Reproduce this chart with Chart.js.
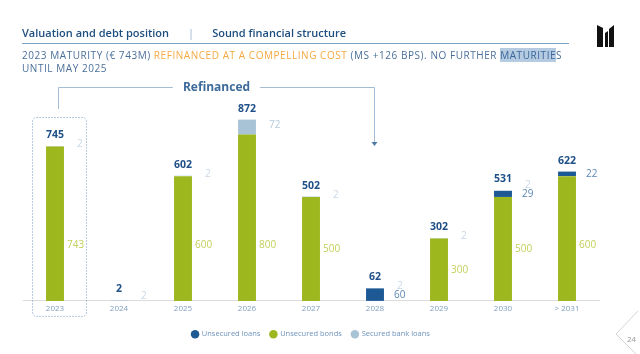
<!DOCTYPE html>
<html>
<head>
<meta charset="utf-8">
<script src="https://cdn.jsdelivr.net/npm/chart.js@4"></script>
<style>
    body { margin: 0; background: #fff; }
    #page { position: relative; width: 640px; height: 354px; overflow: hidden; font-family: "Open Sans", sans-serif; }
    #chart { position: absolute; left: 0; top: 0; }
    .header { position: absolute; top: 25px; left: 22px; font-size: 11px; font-weight: 600; color: #1f4f80; white-space: nowrap; }
    .header .sep { color: #9ab3cc; font-weight: 400; margin: 0 18px 0 19px; }
    .rule { position: absolute; left: 22px; top: 43px; width: 547px; height: 1px; background: #7fa3c6; }
    .subtitle { position: absolute; left: 22px; top: 49px; font-size: 10px; letter-spacing: 0.55px; line-height: 12.5px; color: #4a6f9a; white-space: nowrap; }
    .subtitle .hl { color: #f5a940; }
    .subtitle .sel { background: #b4cbe2; color: #3a679a; }
    #logo { position: absolute; left: 597px; top: 25px; }
    #pageno { position: absolute; left: 600px; top: 310px; }
</style>
</head>
<body>
<div id="page">
    <canvas id="chart" width="640" height="354"></canvas>
    <div class="header">Valuation and debt position<span class="sep">|</span>Sound financial structure</div>
    <div class="rule"></div>
    <div class="subtitle">2023 MATURITY (€ 743M) <span class="hl">REFINANCED AT A COMPELLING COST</span> (MS +126 BPS). NO FURTHER <span class="sel">MATURITIE</span>S<br>UNTIL MAY 2025</div>
    <svg id="logo" width="18" height="22" viewBox="0 0 18 22">
        <polygon points="0,0 6,3 6,22 0,22" fill="#111"/>
        <polygon points="8,8 11,6 11,22 8,22" fill="#111"/>
        <polygon points="12,4 17,0 17,22 12,22" fill="#111"/>
    </svg>
    <svg id="pageno" width="40" height="44">
        <polyline points="38,1 16,24 36,44" fill="none" stroke="#d4d4d4" stroke-width="1"/>
        <text x="27" y="32" font-size="8" fill="#9a9a9a" font-family="Open Sans">24</text>
    </svg>
</div>

<script>
const categories = ["2023", "2024", "2025", "2026", "2027", "2028", "2029", "2030", "> 2031"];
const unsecuredBonds = [743, 0, 600, 800, 500, 0, 300, 500, 600];
const unsecuredLoans = [0, 0, 0, 0, 0, 60, 0, 29, 22];
const securedBankLoans = [2, 2, 2, 72, 2, 2, 2, 2, 0];
const legendOrder = ["Unsecured loans", "Unsecured bonds", "Secured bank loans"];

const GREEN = "#9db71f";
const DARK_BLUE = "#1d5a95";
const LIGHT_BLUE = "#a9c3d6";

// value labels + "Refinanced" annotation
const labelPlugin = {
    id: "labels",
    afterDatasetsDraw(chart) {
        const ctx = chart.ctx;
        const y = chart.scales.y;
        const x = chart.scales.x;
        const bondsMeta = chart.getDatasetMeta(0);

        ctx.save();
        ctx.textBaseline = "middle";

        categories.forEach((cat, i) => {
            const bar = bondsMeta.data[i];
            const right = bar.x + bar.width / 2;
            const bonds = unsecuredBonds[i];
            const loans = unsecuredLoans[i];
            const secured = securedBankLoans[i];
            const total = bonds + loans + secured;

            // total above bar
            ctx.font = "bold 10.5px 'Open Sans'";
            ctx.fillStyle = "#1f4f87";
            ctx.textAlign = "center";
            ctx.fillText(String(total), bar.x, y.getPixelForValue(total) - 11);

            ctx.font = "10px 'Open Sans'";
            ctx.textAlign = "left";

            if (bonds > 0) {
                ctx.fillStyle = "#c3d05a";
                ctx.fillText(String(bonds), right + 3, y.getPixelForValue(Math.min(bonds / 2, 270)));
            }

            let loansY = null;
            if (loans > 0) {
                loansY = y.getPixelForValue(bonds + loans / 2);
                ctx.fillStyle = "#5c87b6";
                ctx.fillText(String(loans), right + 10, loansY);
            }

            if (secured > 0) {
                let sy = y.getPixelForValue(bonds + loans + secured / 2) - 2;
                if (loansY !== null) sy = Math.min(sy, loansY - 9);
                sy = Math.min(sy, chart.chartArea.bottom - 5);
                ctx.fillStyle = secured > 10 ? "#b7c9da" : "#c9d7e5";
                ctx.fillText(String(secured), right + 13, sy);
            }
        });

        // dotted box around 2023
        const first = bondsMeta.data[0];
        const bx0 = first.x - first.width / 2 - 14;
        const bx1 = first.x + first.width / 2 + 22;
        const by0 = y.getPixelForValue(unsecuredBonds[0] + securedBankLoans[0]) - 29;
        const by1 = chart.chartArea.bottom + 15;
        ctx.strokeStyle = "#6f94bf";
        ctx.lineWidth = 1;
        ctx.setLineDash([1, 2]);
        ctx.beginPath();
        ctx.roundRect(bx0 + 0.5, by0 + 0.5, bx1 - bx0, by1 - by0, 4);
        ctx.stroke();
        ctx.setLineDash([]);

        // refinanced bracket with arrow to 2028
        const lx = Math.round(x.getPixelForValue(0)) + 3.5;
        const rx = Math.round(x.getPixelForValue(5)) - 0.5;
        const ly = 87.5;
        ctx.font = "bold 12px 'Open Sans'";
        const label = "Refinanced";
        const tw = ctx.measureText(label).width;
        const mid = (lx + rx) / 2;
        ctx.strokeStyle = "#a3bdd5";
        ctx.beginPath();
        ctx.moveTo(lx, 109);
        ctx.lineTo(lx, ly);
        ctx.lineTo(mid - tw / 2 - 10, ly);
        ctx.moveTo(mid + tw / 2 + 10, ly);
        ctx.lineTo(rx, ly);
        ctx.lineTo(rx, 143);
        ctx.stroke();
        ctx.fillStyle = "#4f79a6";
        ctx.beginPath();
        ctx.moveTo(rx - 3, 142);
        ctx.lineTo(rx + 3, 142);
        ctx.lineTo(rx, 146);
        ctx.closePath();
        ctx.fill();
        ctx.fillStyle = "#3d6b9b";
        ctx.textAlign = "center";
        ctx.fillText(label, mid, ly);

        ctx.restore();
    }
};

new Chart(document.getElementById("chart"), {
    type: "bar",
    data: {
        labels: categories,
        datasets: [
            { label: "Unsecured bonds", data: unsecuredBonds, backgroundColor: GREEN },
            { label: "Unsecured loans", data: unsecuredLoans, backgroundColor: DARK_BLUE },
            { label: "Secured bank loans", data: securedBankLoans, backgroundColor: LIGHT_BLUE }
        ]
    },
    options: {
        responsive: false,
        animation: false,
        devicePixelRatio: 1,
        layout: { padding: { left: 23, right: 41, top: 93, bottom: 6 } },
        datasets: { bar: { barPercentage: 0.28, categoryPercentage: 1 } },
        scales: {
            x: {
                stacked: true,
                grid: { display: false, tickLength: 0 },
                border: { color: "#dcdcdc" },
                ticks: { font: { family: "Open Sans", size: 8 }, color: "#7f9fc2", padding: 3 }
            },
            y: { stacked: true, display: false, min: 0, max: 1000 }
        },
        plugins: {
            tooltip: { enabled: false },
            legend: {
                position: "bottom",
                title: { display: true, text: "", padding: 0, font: { size: 4, lineHeight: 1 } },
                labels: {
                    usePointStyle: true,
                    pointStyle: "circle",
                    boxWidth: 6,
                    boxHeight: 6,
                    padding: 10,
                    color: "#6f93bb",
                    font: { family: "Open Sans", size: 7.5 },
                    sort: (a, b) => legendOrder.indexOf(a.text) - legendOrder.indexOf(b.text)
                }
            }
        }
    },
    plugins: [labelPlugin]
});
</script>
</body>
</html>
